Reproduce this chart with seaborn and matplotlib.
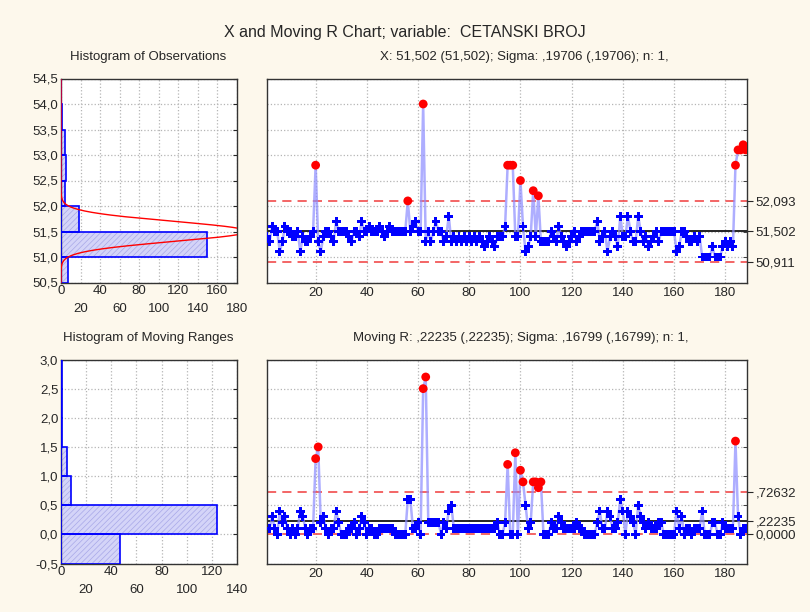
#!/usr/bin/env python
"""X and Moving R control chart for CETANSKI BROJ."""

import matplotlib
matplotlib.use('Agg')
import matplotlib.pyplot as plt
from matplotlib.ticker import FuncFormatter
import seaborn as sns
import pandas as pd
import numpy as np

# individual observations (sample 1..188)
observations = [
    51.4, 51.3, 51.6, 51.5, 51.5, 51.1, 51.3, 51.6, 51.5, 51.5,
    51.4, 51.4, 51.5, 51.1, 51.4, 51.3, 51.3, 51.4, 51.5, 52.8,
    51.3, 51.1, 51.4, 51.5, 51.5, 51.4, 51.3, 51.7, 51.5, 51.5,
    51.5, 51.5, 51.4, 51.3, 51.5, 51.5, 51.4, 51.7, 51.5, 51.5,
    51.6, 51.5, 51.5, 51.5, 51.6, 51.5, 51.4, 51.5, 51.6, 51.5,
    51.5, 51.5, 51.5, 51.5, 51.5, 52.1, 51.5, 51.6, 51.7, 51.5,
    51.5, 54.0, 51.3, 51.5, 51.3, 51.5, 51.7, 51.5, 51.5, 51.3,
    51.4, 51.8, 51.3, 51.4, 51.3, 51.4, 51.3, 51.4, 51.3, 51.4,
    51.3, 51.4, 51.3, 51.4, 51.3, 51.2, 51.3, 51.4, 51.3, 51.2,
    51.4, 51.4, 51.4, 51.6, 52.8, 52.8, 52.8, 51.4, 51.4, 52.5,
    51.6, 51.1, 51.2, 51.4, 52.3, 51.4, 52.2, 51.3, 51.3, 51.3,
    51.3, 51.5, 51.4, 51.3, 51.6, 51.4, 51.3, 51.2, 51.3, 51.4,
    51.5, 51.3, 51.4, 51.5, 51.5, 51.5, 51.5, 51.5, 51.5, 51.7,
    51.3, 51.4, 51.5, 51.1, 51.4, 51.5, 51.4, 51.2, 51.8, 51.4,
    51.4, 51.8, 51.5, 51.3, 51.3, 51.8, 51.5, 51.3, 51.4, 51.2,
    51.3, 51.4, 51.5, 51.3, 51.5, 51.5, 51.5, 51.5, 51.5, 51.5,
    51.1, 51.2, 51.5, 51.5, 51.4, 51.3, 51.3, 51.4, 51.3, 51.4,
    51.0, 51.0, 51.0, 51.0, 51.2, 51.0, 51.0, 51.0, 51.2, 51.3,
    51.2, 51.3, 51.2, 52.8, 53.1, 53.1, 53.2, 53.1,
]

# control limits as printed on the chart
x_center, x_sigma = 51.502, 0.19706
x_ucl, x_lcl = 52.093, 50.911
x_limit_labels = ['52,093', '51,502', '50,911']
mr_center, mr_ucl, mr_lcl = 0.22235, 0.72632, 0.0
mr_limit_labels = [',72632', ',22235', '0,0000']

obs_bins = [50.5, 51.0, 51.5, 52.0, 52.5, 53.0, 53.5, 54.0, 54.5]
mr_bins = [-0.5, 0.0, 0.5, 1.0, 1.5, 2.0, 2.5, 3.0]

title = 'X and Moving R Chart; variable:  CETANSKI BROJ'
x_subtitle = 'X: 51,502 (51,502); Sigma: ,19706 (,19706); n: 1,'
mr_subtitle = 'Moving R: ,22235 (,22235); Sigma: ,16799 (,16799); n: 1,'

sns.set_style('white')
plt.rcParams['font.family'] = ['Liberation Sans', 'DejaVu Sans']
plt.rcParams['hatch.linewidth'] = 0.5
plt.rcParams['axes.linewidth'] = 1.0

BG = '#fdf8ec'
GRID = dict(color='#b5b5b5', linestyle=':', linewidth=0.9)
comma = FuncFormatter(lambda v, p: f'{v:.1f}'.replace('.', ','))

obs = np.array(observations)
n = len(obs)
df_x = pd.DataFrame({'sample': np.arange(1, n + 1), 'value': obs})
df_mr = pd.DataFrame({'sample': np.arange(2, n + 1),
                      'value': np.round(np.abs(np.diff(obs)), 1)})


def draw_chart(ax, df, cl, ucl, lcl, ylim, ygrid, labels):
    ax.set_facecolor('white')
    ax.axhline(ucl, color='#f03c3c', ls=(0, (6, 4)), lw=1.1, zorder=2)
    ax.axhline(lcl, color='#f03c3c', ls=(0, (6, 4)), lw=1.1, zorder=2)
    ax.axhline(cl, color='black', lw=1.2, zorder=2)
    sns.lineplot(data=df, x='sample', y='value', ax=ax, color='#8c8cff',
                 lw=1.8, alpha=0.7, estimator=None, zorder=3)
    out = (df['value'] > ucl) | (df['value'] < lcl)
    sns.scatterplot(data=df[~out], x='sample', y='value', ax=ax, marker='P',
                    s=40, color='#0000ff', edgecolor='none', zorder=4)
    sns.scatterplot(data=df[out], x='sample', y='value', ax=ax, marker='o',
                    s=40, color='#ff0000', edgecolor='none', zorder=5)
    ax.set_xlim(1, 188.5)
    ax.set_ylim(*ylim)
    ax.set_xticks(np.arange(20, 181, 20))
    ax.set_yticks(ygrid, minor=True)
    ax.yaxis.tick_right()
    ax.set_yticks([ucl, cl, lcl])
    ax.set_yticklabels(labels)
    ax.tick_params(axis='y', which='major', direction='out', length=4,
                   labelsize=9.5, pad=2)
    ax.tick_params(axis='y', which='minor', direction='in', length=3,
                   right=True, left=False)
    ax.tick_params(axis='x', direction='in', length=3, labelsize=9.5)
    ax.grid(True, axis='x', which='major', **GRID)
    ax.grid(True, axis='y', which='minor', **GRID)
    ax.set_xlabel('')
    ax.set_ylabel('')
    for s in ax.spines.values():
        s.set_color('#333333')


def draw_hist(ax, values, bins, xmax, curve=None):
    ax.set_facecolor('white')
    binned = pd.cut(pd.Series(values), bins=bins, right=True, include_lowest=True)
    counts = binned.value_counts(sort=False).sort_index().values
    centers = np.array(bins[:-1]) + 0.25
    ax.barh(centers, counts, height=0.5, color='#d4d4f8', edgecolor='#a8a8e8',
            hatch='//////', lw=0, zorder=2)
    ax.barh(centers, counts, height=0.5, fill=False, edgecolor='#0000ff',
            lw=1.2, zorder=3)
    if curve is not None:
        ax.plot(curve[1], curve[0], color='#ff0000', lw=1, zorder=4)
    ax.set_xlim(0, xmax)
    ax.set_ylim(bins[0], bins[-1])
    ax.set_yticks(bins)
    ax.yaxis.set_major_formatter(comma)
    # staggered count labels: even steps on the first row, odd on the second
    ax.set_xticks(np.arange(0, xmax + 1, 40))
    ax.set_xticks(np.arange(20, xmax + 1, 40), minor=True)
    ax.set_xticklabels([f'{t}' for t in np.arange(20, xmax + 1, 40)], minor=True)
    ax.tick_params(axis='both', which='both', direction='in', length=3,
                   labelsize=9.5, right=True, top=False, pad=2)
    ax.tick_params(axis='x', which='minor', pad=15)
    ax.grid(True, which='major', **GRID)
    ax.grid(True, which='minor', axis='x', **GRID)
    for s in ax.spines.values():
        s.set_color('#333333')


fig = plt.figure(figsize=(8.1, 6.12), dpi=100, facecolor=BG)
W, H = 810, 612
ax_h1 = fig.add_axes([61 / W, 1 - 282.5 / H, 176 / W, 204 / H])
ax_x = fig.add_axes([267 / W, 1 - 282.5 / H, 480 / W, 204 / H])
ax_h2 = fig.add_axes([61 / W, 1 - 563.5 / H, 176 / W, 204 / H])
ax_mr = fig.add_axes([267 / W, 1 - 563.5 / H, 480 / W, 204 / H])

# expected normal curve on the observation histogram
yy = np.linspace(50.5, 54.5, 600)
ff = n * 0.5 * np.exp(-0.5 * ((yy - x_center) / x_sigma) ** 2) / (x_sigma * np.sqrt(2 * np.pi))

draw_hist(ax_h1, obs, obs_bins, 180, curve=(yy, ff))
draw_hist(ax_h2, df_mr['value'].values, mr_bins, 140)

draw_chart(ax_x, df_x, x_center, x_ucl, x_lcl, (50.5, 54.5),
           np.arange(50.5, 54.51, 0.5), x_limit_labels)
draw_chart(ax_mr, df_mr, mr_center, mr_ucl, mr_lcl, (-0.5, 3.0),
           np.arange(-0.5, 3.01, 0.5), mr_limit_labels)

fig.text(405 / W, 1 - 33 / H, title, ha='center', va='center', fontsize=11.5)
fig.text(148 / W, 1 - 57 / H, 'Histogram of Observations', ha='center',
         va='center', fontsize=9.5)
fig.text(524 / W, 1 - 57 / H, x_subtitle, ha='center', va='center', fontsize=9.5)
fig.text(148 / W, 1 - 338 / H, 'Histogram of Moving Ranges', ha='center',
         va='center', fontsize=9.5)
fig.text(521 / W, 1 - 338 / H, mr_subtitle, ha='center', va='center', fontsize=9.5)

fig.savefig('out.png', dpi=100, facecolor=BG)
